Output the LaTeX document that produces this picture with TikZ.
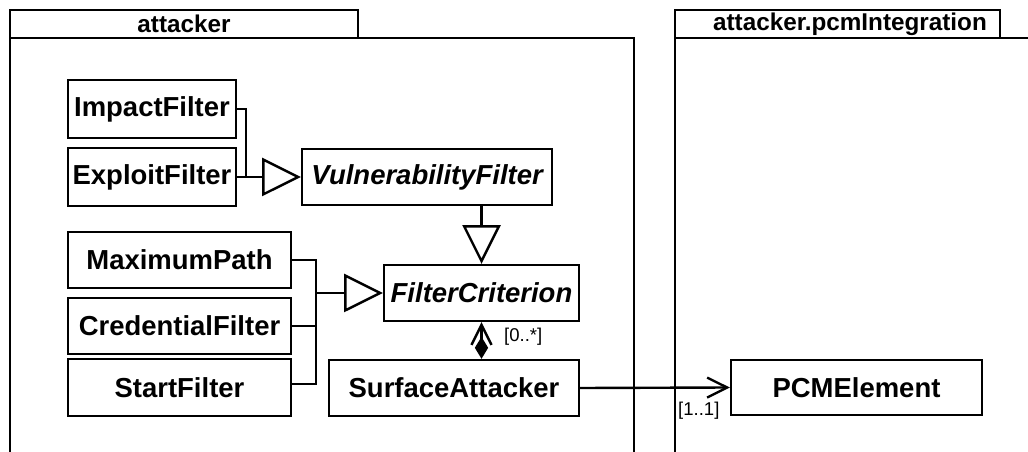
\documentclass[tikz,border=0pt]{standalone}
\usepackage{fontspec}
\setmainfont{Liberation Sans}
\usetikzlibrary{arrows.meta}
\begin{document}
\begin{tikzpicture}[x=0.75pt,y=-0.75pt, line width=1.8pt,
  cls/.style={draw, inner sep=0pt, font=\fontsize{20.6}{24}\selectfont\bfseries},
  abstractcls/.style={cls, font=\fontsize{20.6}{24}\selectfont\bfseries\itshape},
  pkgtitle/.style={font=\fontsize{18.2}{22}\selectfont\bfseries, inner sep=0pt},
  mult/.style={font=\fontsize{13.9}{16}\selectfont, inner sep=0pt},
  gen/.style={-{Triangle[open,length=29pt,width=28.5pt]}},
  comp/.style={{Diamond[length=16.5pt,width=10pt]}-{Straight Barb[length=15pt,width=15pt]}},
  nav/.style={-{Straight Barb[length=15pt,width=15pt]}}
]
\useasboundingbox (0,0) rectangle (1028,452);
% packages
\draw (10,460) -- (10,10) -- (358,10) -- (358,38);
\draw (10,38) -- (634,38) -- (634,460);
\node[pkgtitle] (p1) at (184,24) {attacker};
\draw (675,460) -- (675,10) -- (1000,10) -- (1000,38);
\draw (675,38) -- (1040,38);
\node[pkgtitle] (p2) at (850,24) {attacker.pcmIntegration};
% classes
\node[cls, minimum width=126pt, minimum height=43.5pt] (IF) at (152,109) {ImpactFilter};
\node[cls, minimum width=126pt, minimum height=43.5pt] (EF) at (152,177) {ExploitFilter};
\node[abstractcls, minimum width=187.5pt, minimum height=42pt] (VF) at (427,177) {VulnerabilityFilter};
\node[cls, minimum width=167.25pt, minimum height=42pt] (MP) at (179.5,260) {MaximumPath};
\node[cls, minimum width=167.25pt, minimum height=42pt] (CF) at (179.5,326) {CredentialFilter};
\node[cls, minimum width=167.25pt, minimum height=42.75pt] (SF) at (179.5,387.5) {StartFilter};
\node[abstractcls, minimum width=146.25pt, minimum height=42pt] (FC) at (481.5,293) {FilterCriterion};
\node[cls, minimum width=187.5pt, minimum height=42pt] (SA) at (454,388) {SurfaceAttacker};
\node[cls, minimum width=188.25pt, minimum height=41.25pt] (PCM) at (856.5,387.5) {PCMElement};
% generalizations
\coordinate (j1) at (246,177);
\draw (IF.east) -| (j1);
\draw[gen] (EF.east) -- (VF.west);
\coordinate (j2) at (316,293);
\draw (MP.east) -| (j2);
\draw ([yshift=2.6pt]SF.east) -| (j2);
\draw (CF.east) -- (CF.east -| j2);
\draw[gen] (j2) -- (FC.west);
\draw[gen] (VF.south -| FC.north) -- (FC.north);
% composition
\draw[comp] (SA.north -| FC.south) -- (FC.south);
\node[mult, anchor=west] (m1) at (503,337) {[0..*]};
% association
\draw[nav] (SA.east) -- (PCM.west);
\node[mult, anchor=west] (m2) at (677,411) {[1..1]};
\end{tikzpicture}
\end{document}
